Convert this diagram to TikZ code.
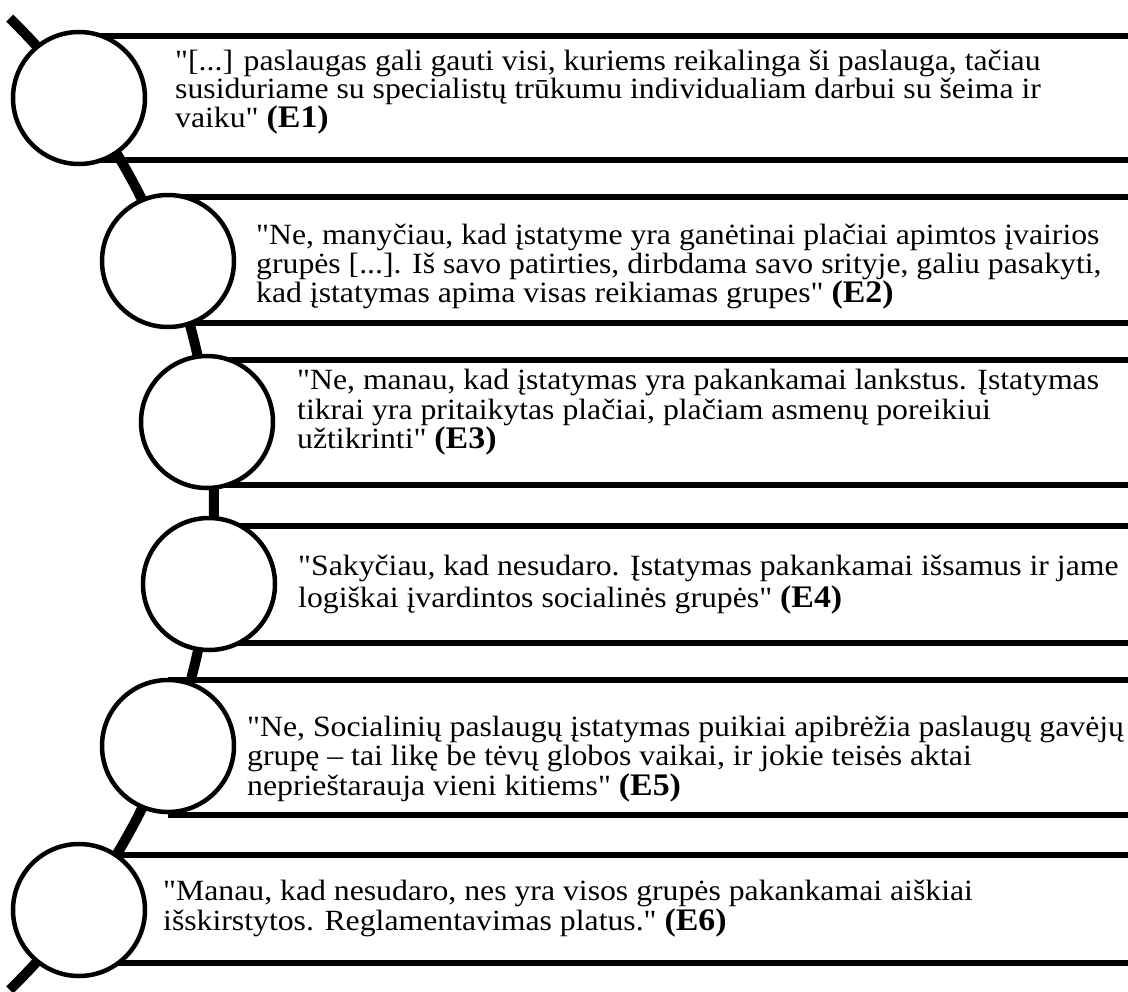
\documentclass[tikz,border=0pt]{standalone}
\usepackage{fontspec}
\setmainfont{Liberation Serif}[FakeStretch=1.08, Ligatures=TeXOff]
\usetikzlibrary{calc}
\newcommand{\srclabel}[1]{{\bfseries\fontsize{31.5}{31.5}\selectfont(#1)}}
\tikzset{
  spine/.style={line width=10bp},
  bar/.style={line width=6bp},
  dot/.style={circle, draw, line width=4.5bp, fill=white, minimum size=132bp, inner sep=0pt},
  quote/.style={anchor=base west, inner sep=0pt, font=\fontsize{29.5}{30}\selectfont},
}
\begin{document}
\begin{tikzpicture}[x=1bp, y=-1bp]
\useasboundingbox (0,0) rectangle (1128,992);

% curved spine the circles sit on
\coordinate (hub) at (-466,504);
\coordinate (spinetop) at ($(hub)+(-45.6:680)$);
\draw[spine] (spinetop) arc[start angle=-45.6, end angle=45.6, radius=680];

% circle positions
\coordinate (p1) at (79,98);
\coordinate (p2) at (168,261);
\coordinate (p3) at (207,422);
\coordinate (p4) at (209,584);
\coordinate (p5) at (168,746);
\coordinate (p6) at (79,910);

% band edges
\foreach \i/\top/\bot in {1/36/160, 2/197/323, 3/360/485, 4/526/643, 5/680/815, 6/855/963}{
  \draw[bar] (p\i |- 0,\top) -- (1135,\top);
  \draw[bar] (p\i |- 0,\bot) -- (1135,\bot);
}

% circles
\foreach \i in {1,...,6}{
  \node[dot] (c\i) at (p\i) {};
}

% band 1
\node[quote] (q1a) at (175,70) {"[...] paslaugas gali gauti visi, kuriems reikalinga ši paslauga, tačiau};
\node[quote] (q1b) at (175,98) {susiduriame su specialistų trūkumu individualiam darbui su šeima ir};
\node[quote] (q1c) at (175,127) {vaiku" \srclabel{E1}};

% band 2
\node[quote] (q2a) at (256,244) {"Ne, manyčiau, kad įstatyme yra ganėtinai plačiai apimtos įvairios};
\node[quote] (q2b) at (256,273) {grupės [...]. Iš savo patirties, dirbdama savo srityje, galiu pasakyti,};
\node[quote] (q2c) at (256,302) {kad įstatymas apima visas reikiamas grupes" \srclabel{E2}};

% band 3
\node[quote] (q3a) at (297,389) {"Ne, manau, kad įstatymas yra pakankamai lankstus. Įstatymas};
\node[quote] (q3b) at (297,419) {tikrai yra pritaikytas plačiai, plačiam asmenų poreikiui};
\node[quote] (q3c) at (297,448) {užtikrinti" \srclabel{E3}};

% band 4
\node[quote] (q4a) at (298,575) {"Sakyčiau, kad nesudaro. Įstatymas pakankamai išsamus ir jame};
\node[quote] (q4b) at (298,607) {logiškai įvardintos socialinės grupės" \srclabel{E4}};

% band 5
\node[quote] (q5a) at (247,736) {"Ne, Socialinių paslaugų įstatymas puikiai apibrėžia paslaugų gavėjų};
\node[quote] (q5b) at (247,765) {grupę – tai likę be tėvų globos vaikai, ir jokie teisės aktai};
\node[quote] (q5c) at (247,795) {neprieštarauja vieni kitiems" \srclabel{E5}};

% band 6
\node[quote] (q6a) at (163,900) {"Manau, kad nesudaro, nes yra visos grupės pakankamai aiškiai};
\node[quote] (q6b) at (163,930) {išskirstytos. Reglamentavimas platus." \srclabel{E6}};
\end{tikzpicture}
\end{document}
